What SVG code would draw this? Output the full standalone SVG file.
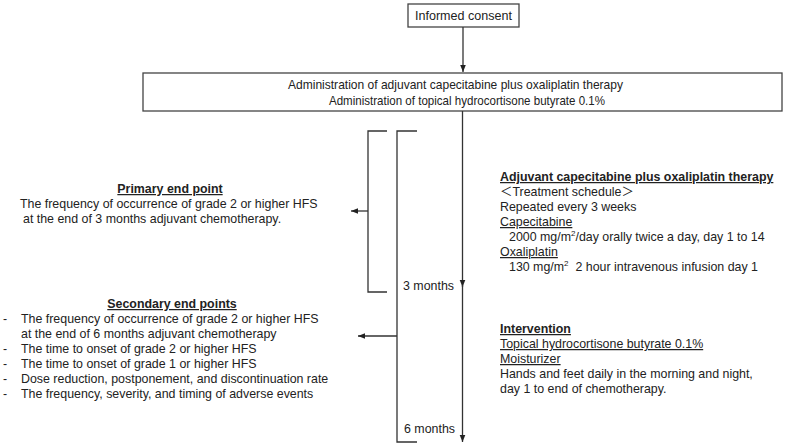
<svg xmlns="http://www.w3.org/2000/svg" width="787" height="446" viewBox="0 0 787 446">
<style>
text{font-family:"Liberation Sans",Arial,"Noto Sans CJK JP",sans-serif;fill:#222;font-size:12.4px}
.b{font-weight:bold;text-decoration:underline}
.u{text-decoration:underline}
.box{fill:#fff;stroke:#444;stroke-width:1.3}
.ln{fill:none;stroke:#333;stroke-width:1.3}
.m{text-anchor:middle}
.sup{font-size:8px}
</style>
<defs>
<marker id="ah" markerWidth="8" markerHeight="8" refX="7" refY="4" orient="auto" markerUnits="userSpaceOnUse">
<path d="M0,1.2 L7,4 L0,6.8 Z" fill="#222"/>
</marker>
</defs>
<g id="consent">
<rect class="box" x="408" y="4" width="111" height="23"/>
<text x="463.5" y="20" class="m" font-size="13.5" textLength="97" lengthAdjust="spacingAndGlyphs">Informed consent</text>
</g>
<g id="administration">
<rect class="box" x="143" y="73" width="639" height="38"/>
<text x="455.5" y="89" class="m" font-size="14" textLength="335" lengthAdjust="spacingAndGlyphs">Administration of adjuvant capecitabine plus oxaliplatin therapy</text>
<text x="467" y="105" class="m" font-size="14" textLength="276" lengthAdjust="spacingAndGlyphs">Administration of topical hydrocortisone butyrate 0.1%</text>
</g>
<g id="connectors">
<line class="ln" x1="463" y1="27" x2="463" y2="72" marker-end="url(#ah)"/>
<line class="ln" x1="462.5" y1="111" x2="462.5" y2="287" marker-end="url(#ah)"/>
<line class="ln" x1="462.5" y1="285" x2="462.5" y2="442" marker-end="url(#ah)"/>
<polyline class="ln" points="387,131 368,131 368,292 387,292"/>
<polyline class="ln" points="417,131 397,131 397,442 417,442"/>
<line class="ln" x1="368" y1="211" x2="351" y2="211" marker-end="url(#ah)"/>
<line class="ln" x1="397" y1="336" x2="358" y2="336" marker-end="url(#ah)"/>
</g>
<g id="time-labels">
<text x="403" y="290" font-size="12">3 months</text>
<text x="404" y="433" font-size="12">6 months</text>
</g>
<g id="primary">
<text x="170" y="193" class="m b">Primary end point</text>
<text x="20" y="208">The frequency of occurrence of grade 2 or higher HFS</text>
<text x="23" y="223">at the end of 3 months adjuvant chemotherapy.</text>
</g>
<g id="secondary">
<text x="172" y="308" class="m b">Secondary end points</text>
<text x="3" y="323">-</text><text x="21" y="323">The frequency of occurrence of grade 2 or higher HFS</text>
<text x="21" y="338">at the end of 6 months adjuvant chemotherapy</text>
<text x="3" y="353">-</text><text x="21" y="353">The time to onset of grade 2 or higher HFS</text>
<text x="3" y="368">-</text><text x="21" y="368">The time to onset of grade 1 or higher HFS</text>
<text x="3" y="382.5">-</text><text x="21" y="382.5">Dose reduction, postponement, and discontinuation rate</text>
<text x="3" y="397.5">-</text><text x="21" y="397.5">The frequency, severity, and timing of adverse events</text>
</g>
<g id="therapy">
<text x="500" y="181" class="b">Adjuvant capecitabine plus oxaliplatin therapy</text>
<text x="500" y="196">＜Treatment schedule＞</text>
<text x="500" y="211">Repeated every 3 weeks</text>
<text x="500" y="226" class="u">Capecitabine</text>
<text x="509" y="241">2000 mg/m<tspan class="sup" dy="-5">2</tspan><tspan dy="5">/day orally twice a day, day 1 to 14</tspan></text>
<text x="500" y="256" class="u">Oxaliplatin</text>
<text x="509" y="271">130 mg/m<tspan class="sup" dy="-5">2</tspan><tspan dy="5" xml:space="preserve">  2 hour intravenous infusion day 1</tspan></text>
</g>
<g id="intervention">
<text x="500" y="333" class="b">Intervention</text>
<text x="500" y="348" class="u">Topical hydrocortisone butyrate 0.1%</text>
<text x="500" y="363" class="u">Moisturizer</text>
<text x="500" y="378">Hands and feet daily in the morning and night,</text>
<text x="500" y="393">day 1 to end of chemotherapy.</text>
</g>
</svg>
